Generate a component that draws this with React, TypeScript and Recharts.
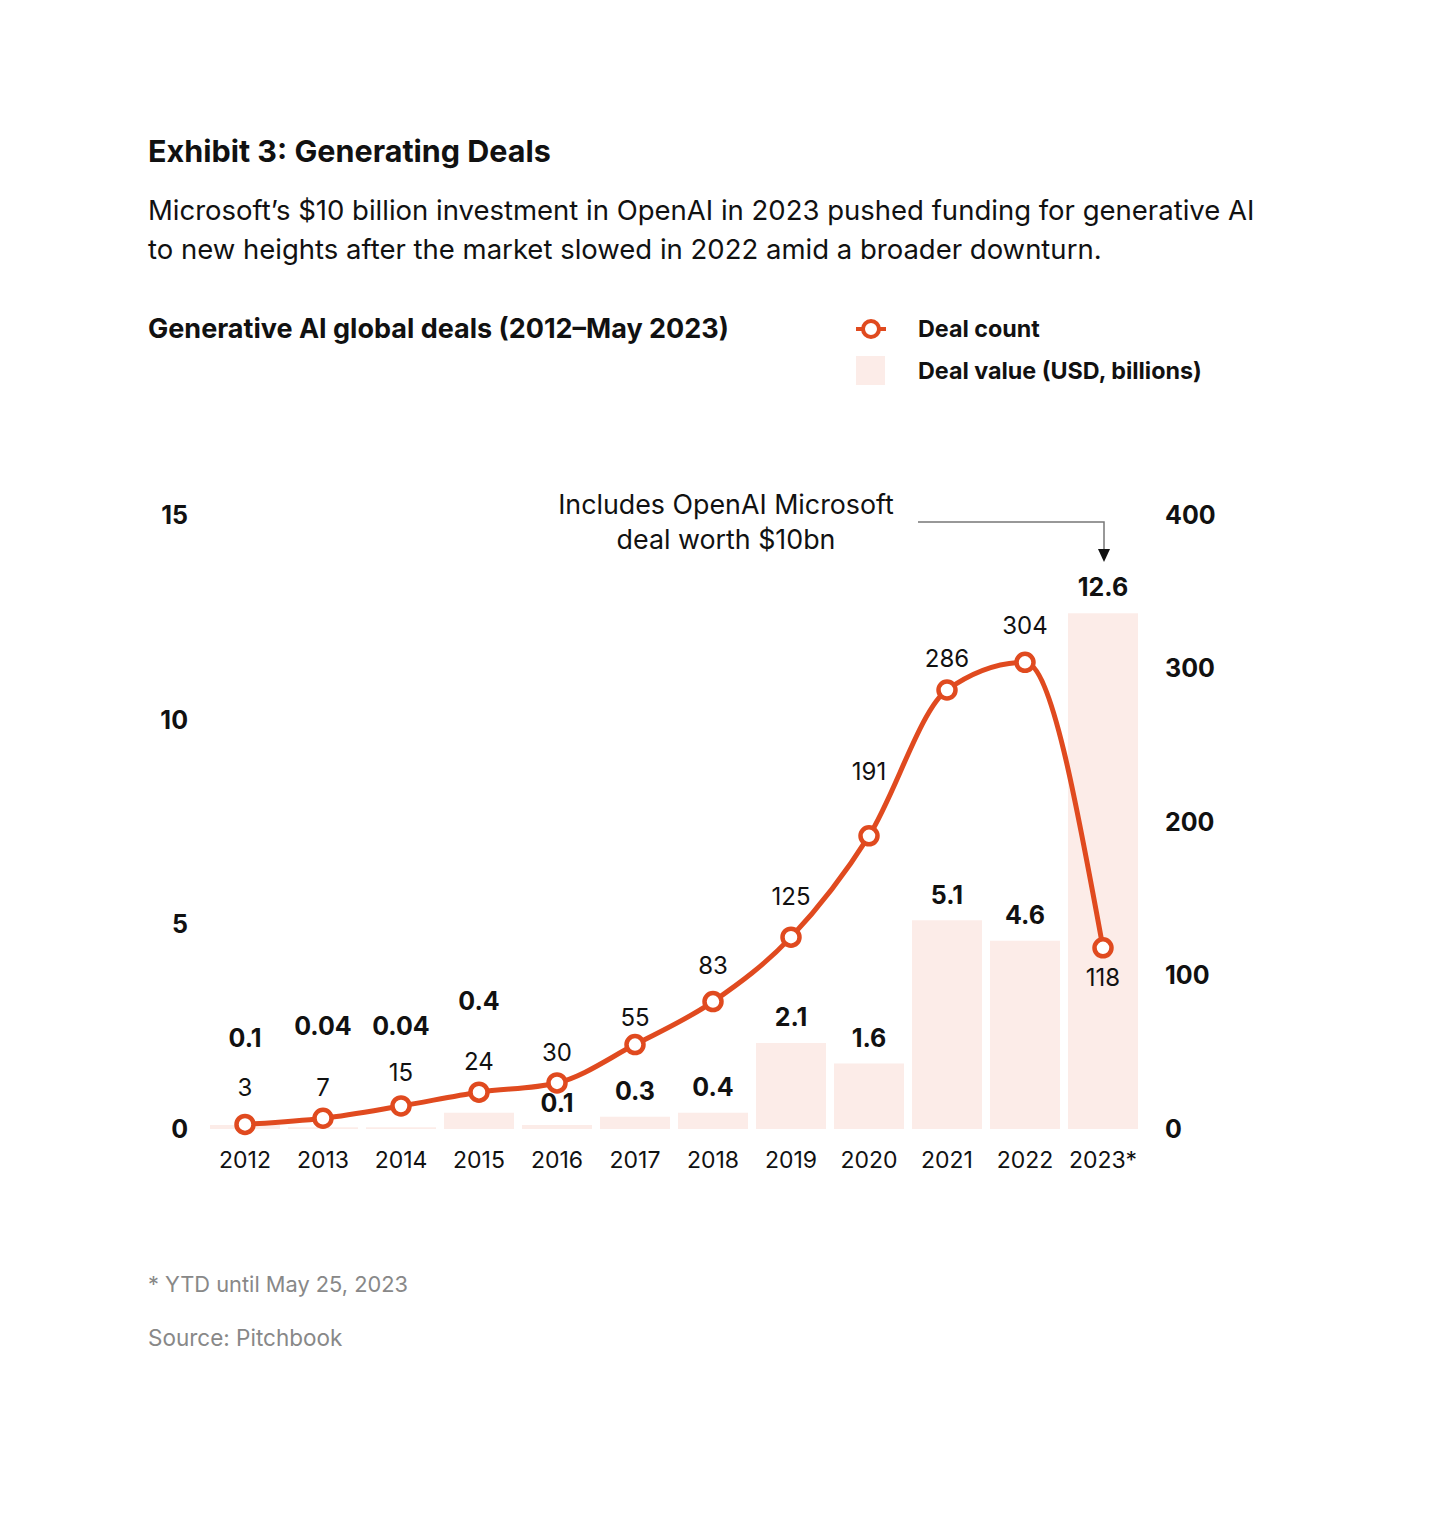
import React from "react";
import {
  ComposedChart,
  Bar,
  Line,
  XAxis,
  YAxis,
  LabelList,
} from "recharts";

const years = ["2012", "2013", "2014", "2015", "2016", "2017", "2018", "2019", "2020", "2021", "2022", "2023*"];
const dealValue = [0.1, 0.04, 0.04, 0.4, 0.1, 0.3, 0.4, 2.1, 1.6, 5.1, 4.6, 12.6];
const dealCount = [3, 7, 15, 24, 30, 55, 83, 125, 191, 286, 304, 118];
const valueTicks = [0, 5, 10, 15];
const countTicks = [0, 100, 200, 300, 400];

// how far each label sits above its mark (px), hand-tuned like the original
const valueLabelLift = [87, 101, 101, 112, 22, 26, 26, 26, 26, 25, 26, 26];
const countLabelLift = [37, 31, 33, 31, 30, 27, 36, 41, 64, 31, 37, -30];

const data = years.map((year, i) => ({
  year,
  value: dealValue[i],
  count: dealCount[i],
}));

const FONT = "Inter, 'Noto Sans', sans-serif";
const RED = "#E04A1F";
const PINK = "#FCECE8";
const INK = "#111111";

const ValueLabel = (props: any) => {
  const { x, y, width, value, index } = props;
  return (
    <text
      x={x + width / 2}
      y={y - valueLabelLift[index]}
      textAnchor="middle"
      dominantBaseline="central"
      fontFamily={FONT}
      fontSize={25}
      fontWeight={700}
      fill={INK}
    >
      {value}
    </text>
  );
};

const CountLabel = (props: any) => {
  const { x, y, value, index } = props;
  return (
    <text
      x={x}
      y={y - countLabelLift[index]}
      textAnchor="middle"
      dominantBaseline="central"
      fontFamily={FONT}
      fontSize={24}
      fill={INK}
    >
      {value}
    </text>
  );
};

const txt = (top: number, size: number, extra: React.CSSProperties = {}) =>
  ({
    position: "absolute",
    top,
    left: 148,
    fontSize: size,
    lineHeight: "40px",
    whiteSpace: "nowrap",
    color: INK,
    ...extra,
  }) as React.CSSProperties;

export default function App() {
  return (
    <div
      style={{
        position: "relative",
        width: 1446,
        height: 1516,
        margin: -8,
        background: "#fff",
        fontFamily: FONT,
      }}
    >
      <ComposedChart
        width={1446}
        height={1516}
        data={data}
        margin={{ top: 515, right: 204, bottom: 337, left: 126 }}
        style={{ position: "absolute", top: 0, left: 0 }}
      >
        <XAxis
          dataKey="year"
          axisLine={false}
          tickLine={false}
          tickSize={21}
          height={50}
          interval={0}
          tick={{ fill: INK, fontSize: 23, fontFamily: FONT }}
        />
        <YAxis
          yAxisId="value"
          orientation="left"
          domain={[0, 15]}
          ticks={valueTicks}
          width={80}
          axisLine={false}
          tickLine={false}
          tickSize={16}
          tick={{ fill: INK, fontSize: 25, fontWeight: 700, fontFamily: FONT }}
        />
        <YAxis
          yAxisId="count"
          orientation="right"
          domain={[0, 400]}
          ticks={countTicks}
          width={100}
          axisLine={false}
          tickLine={false}
          tickSize={21}
          tick={{ fill: INK, fontSize: 25, fontWeight: 700, fontFamily: FONT }}
        />
        <Bar yAxisId="value" dataKey="value" fill={PINK} barSize={70} isAnimationActive={false}>
          <LabelList dataKey="value" content={<ValueLabel />} />
        </Bar>
        <Line
          yAxisId="count"
          dataKey="count"
          type="monotone"
          stroke={RED}
          strokeWidth={5}
          dot={{ r: 8.5, fill: "#fff", stroke: RED, strokeWidth: 4.5 }}
          activeDot={false}
          isAnimationActive={false}
        >
          <LabelList dataKey="count" content={<CountLabel />} />
        </Line>
      </ComposedChart>

      <div style={txt(131, 30.5, { fontWeight: 700 })}>Exhibit 3: Generating Deals</div>
      <div style={txt(191, 27.5, { lineHeight: "39px" })}>
        Microsoft’s $10 billion investment in OpenAI in 2023 pushed funding for generative AI
        <br />
        to new heights after the market slowed in 2022 amid a broader downturn.
      </div>
      <div style={txt(309, 27, { fontWeight: 700 })}>Generative AI global deals (2012–May 2023)</div>

      {/* legend */}
      <svg width={40} height={80} style={{ position: "absolute", left: 851, top: 309 }}>
        <line x1={5} y1={20} x2={35} y2={20} stroke={RED} strokeWidth={4} />
        <circle cx={20} cy={20} r={8} fill="#fff" stroke={RED} strokeWidth={4} />
        <rect x={5} y={47} width={29} height={29} fill={PINK} />
      </svg>
      <div style={txt(309, 23.3, { left: 918, fontWeight: 700 })}>Deal count</div>
      <div style={txt(351, 23.3, { left: 918, fontWeight: 700 })}>Deal value (USD, billions)</div>

      {/* annotation */}
      <div
        style={txt(487, 26.8, {
          left: 526,
          width: 400,
          textAlign: "center",
          lineHeight: "35px",
        })}
      >
        Includes OpenAI Microsoft
        <br />
        deal worth $10bn
      </div>
      <svg width={1446} height={80} style={{ position: "absolute", left: 0, top: 500 }}>
        <polyline points="918,22 1104,22 1104,50" fill="none" stroke="#777" strokeWidth={1.5} />
        <polygon points="1098,49 1110,49 1104,62" fill={INK} />
      </svg>

      <div style={txt(1264, 21.8, { color: "#888" })}>* YTD until May 25, 2023</div>
      <div style={txt(1318, 22.5, { color: "#888" })}>Source: Pitchbook</div>
    </div>
  );
}
